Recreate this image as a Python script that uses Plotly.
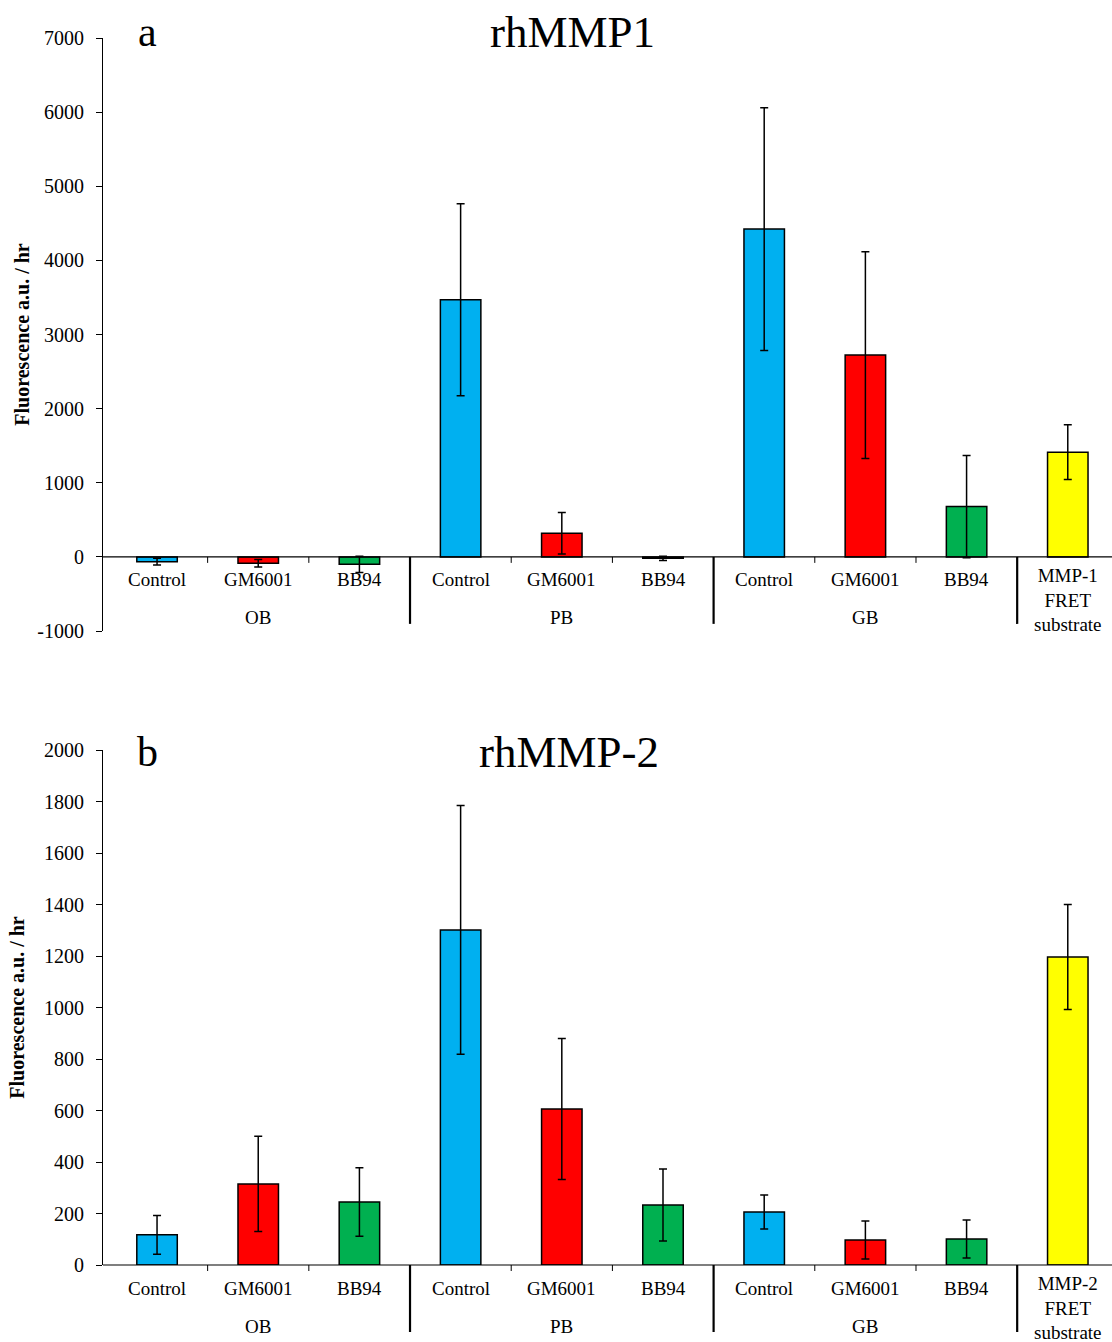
import plotly.graph_objects as go

W, H = 1112, 1342
L = 103
PW = W - L

categories = ["Control", "GM6001", "BB94", "Control", "GM6001", "BB94",
              "Control", "GM6001", "BB94", "MMP-{n}<br>FRET<br>substrate"]
groups = ["OB", "PB", "GB"]
group_centers = [1, 4, 7]
colors = ["#00B0F0", "#FF0000", "#00B050", "#00B0F0", "#FF0000", "#00B050",
          "#00B0F0", "#FF0000", "#00B050", "#FFFF00"]

mmp1_values = [-65, -85, -100, 3468, 320, -20, 4422, 2722, 679, 1413]
mmp1_errors = [45, 50, 110, 1295, 280, 30, 1637, 1395, 690, 370]

mmp2_values = [117, 315, 245, 1301, 606, 233, 206, 97, 101, 1196]
mmp2_errors = [75, 185, 133, 483, 274, 140, 66, 74, 74, 204]

y1_ticks = [-1000, 0, 1000, 2000, 3000, 4000, 5000, 6000, 7000]
y2_ticks = [0, 200, 400, 600, 800, 1000, 1200, 1400, 1600, 1800, 2000]

FONT = "Liberation Serif"

fig = go.Figure()
x_idx = list(range(len(categories)))


def px_x(px):
    return (px - L) / PW


def px_y(py):
    return 1 - py / H


panels = [
    dict(vals=mmp1_values, errs=mmp1_errors, xa="x", ya="y", n=1,
         dom=[px_y(631), px_y(38)], rng=[-1000, 7000], ticks=y1_ticks,
         letter="a", title="rhMMP1", ty=32, tx=572),
    dict(vals=mmp2_values, errs=mmp2_errors, xa="x2", ya="y2", n=2,
         dom=[px_y(1265), px_y(750)], rng=[0, 2000], ticks=y2_ticks,
         letter="b", title="rhMMP-2", ty=752, tx=569),
]

annotations = []
shapes = []
for p in panels:
    fig.add_trace(go.Bar(
        x=x_idx, y=p["vals"], xaxis=p["xa"], yaxis=p["ya"], width=0.4,
        marker=dict(color=colors, line=dict(color="black", width=1.5)),
        error_y=dict(type="data", array=p["errs"], visible=True,
                     color="black", thickness=1.5, width=4),
        showlegend=False,
    ))
    d0, d1 = p["dom"]
    r0, r1 = p["rng"]
    zero_paper = d0 + (0 - r0) / (r1 - r0) * (d1 - d0)
    shapes.append(dict(type="line", xref=f"{p['xa']} domain", yref="paper",
                       x0=0, x1=1, y0=zero_paper, y1=zero_paper,
                       line=dict(color="black", width=1.2)))
    for b in range(1, len(categories)):
        sep = b in (3, 6, 9)
        drop = (67 if sep else 6) / H
        shapes.append(dict(type="line", xref=p["xa"], yref="paper",
                           x0=b - 0.5, x1=b - 0.5,
                           y0=zero_paper, y1=zero_paper - drop,
                           line=dict(color="black", width=2.2 if sep else 1)))
    for i, c in enumerate(categories):
        if "<br>" in c:
            annotations.append(dict(xref=p["xa"], yref="paper", x=i,
                                    y=zero_paper, yshift=-6, yanchor="top",
                                    text=c.format(n=p["n"]), showarrow=False,
                                    font=dict(family=FONT, size=19, color="black")))
        else:
            annotations.append(dict(xref=p["xa"], yref="paper", x=i,
                                    y=zero_paper, yshift=-23, yanchor="middle",
                                    text=c, showarrow=False,
                                    font=dict(family=FONT, size=19, color="black")))
    for g, gc in zip(groups, group_centers):
        annotations.append(dict(xref=p["xa"], yref="paper", x=gc,
                                y=zero_paper, yshift=-61, yanchor="middle",
                                text=g, showarrow=False,
                                font=dict(family=FONT, size=19, color="black")))
    annotations.append(dict(xref="paper", yref="paper", x=px_x(147),
                            y=px_y(p["ty"]), text=p["letter"],
                            showarrow=False, xanchor="center", yanchor="middle",
                            font=dict(family=FONT, size=42, color="black")))
    annotations.append(dict(xref="paper", yref="paper", x=px_x(p["tx"]),
                            y=px_y(p["ty"]), text=p["title"],
                            showarrow=False, xanchor="center", yanchor="middle",
                            font=dict(family=FONT, size=45, color="black")))

axis_common_x = dict(range=[-0.534, 9.437], showticklabels=False, ticks="",
                     showline=False, showgrid=False, zeroline=False,
                     automargin=False, fixedrange=True)


def yaxis(p, standoff):
    return dict(domain=p["dom"], range=p["rng"], tickvals=p["ticks"],
                ticktext=[str(t) for t in p["ticks"]], anchor=p["xa"],
                showline=True, linecolor="black", linewidth=1.2,
                ticks="outside", ticklen=6, tickcolor="black",
                ticklabelstandoff=8,
                showgrid=False, zeroline=False, automargin=False,
                tickfont=dict(family=FONT, size=20, color="black"),
                title=dict(text="<b>Fluorescence a.u. / hr</b>",
                           font=dict(family=FONT, size=20, color="black"),
                           standoff=standoff))


fig.update_layout(
    width=W, height=H,
    margin=dict(l=L, r=0, t=0, b=0, autoexpand=False),
    font=dict(family=FONT, color="black"),
    paper_bgcolor="white", plot_bgcolor="white",
    xaxis=dict(domain=[0, 1], anchor="y", **axis_common_x),
    xaxis2=dict(domain=[0, 1], anchor="y2", **axis_common_x),
    yaxis=yaxis(panels[0], 2),
    yaxis2=yaxis(panels[1], 13),
    annotations=annotations,
    shapes=shapes,
)

fig.write_html("out.html")
